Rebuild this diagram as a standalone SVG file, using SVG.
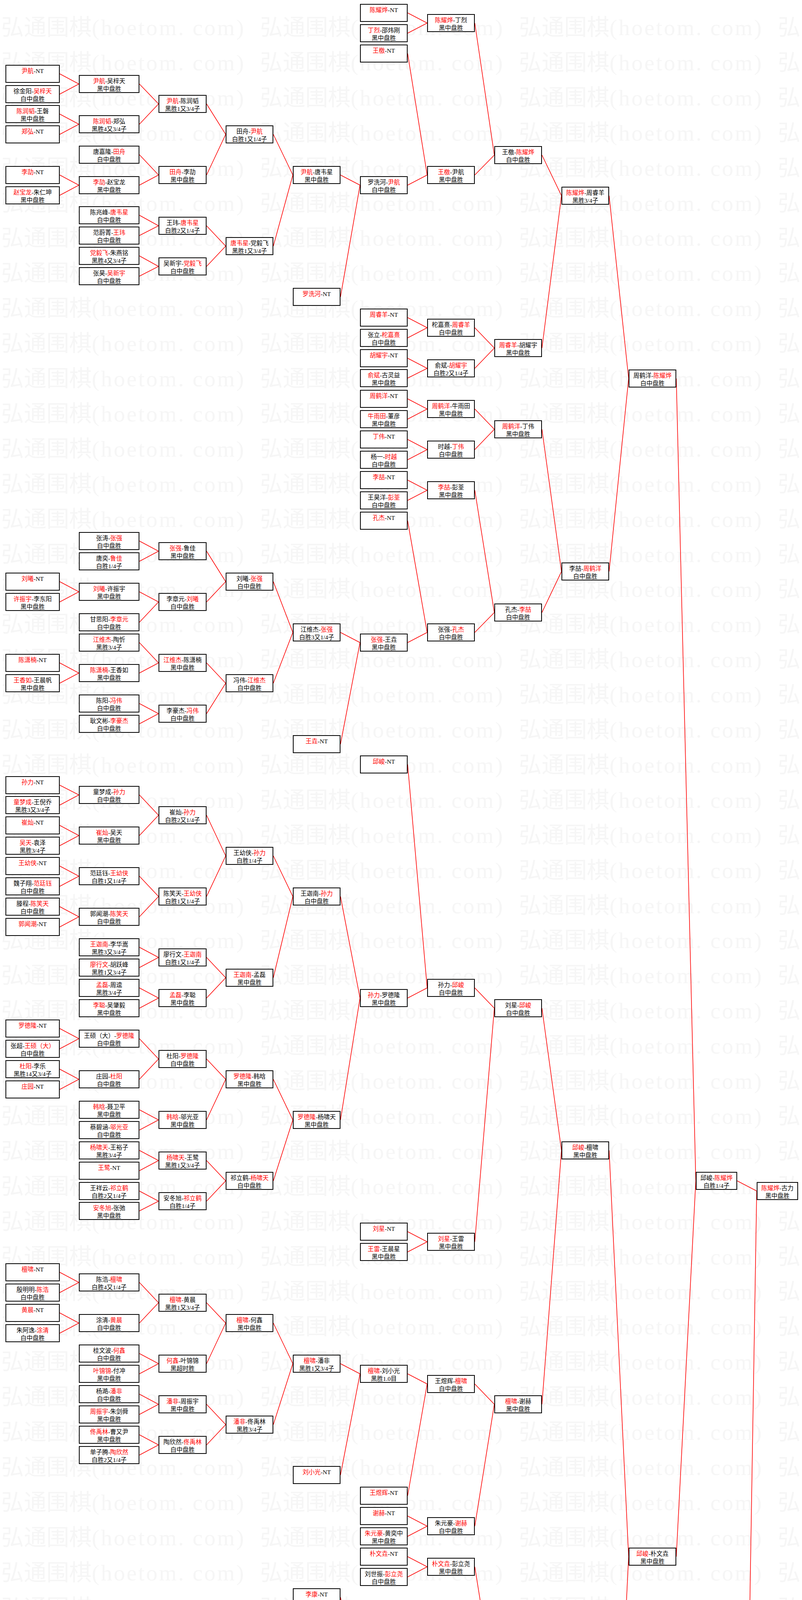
<svg xmlns="http://www.w3.org/2000/svg" width="2054" height="6097" viewBox="0 0 2054 6097">
<style>
.bx{fill:#fff;stroke:#000;stroke-width:2}
#watermark text{font-family:"Liberation Serif","Noto Sans CJK SC",serif;font-size:58px;fill:#f6f6f6}
#watermark tspan{letter-spacing:4px}
#nodes text{font-family:"Liberation Serif","Noto Sans CJK SC",serif;font-size:15.5px;text-anchor:middle;fill:#000}
#nodes tspan.r{fill:#f00}
#connectors path{fill:none;stroke:#f00;stroke-width:1.6}
</style>
<defs>
<rect id="bA" class="bx" x="1" y="1" width="137" height="44"/>
<rect id="bB" class="bx" x="1" y="1" width="153" height="44"/>
<rect id="bC" class="bx" x="1" y="1" width="121" height="44"/>
<rect id="bD" class="bx" x="1" y="1" width="120" height="44"/>
<rect id="bK" class="bx" x="1" y="1" width="104" height="44"/>
</defs>
<rect width="2054" height="6097" fill="#fff"/>
<g id="watermark">
<text x="3" y="90">弘通围棋<tspan>(hoetom. com)</tspan></text><text x="666" y="90">弘通围棋<tspan>(hoetom. com)</tspan></text><text x="1329" y="90">弘通围棋<tspan>(hoetom. com)</tspan></text><text x="1992" y="90">弘</text>
<text x="3" y="180">弘通围棋<tspan>(hoetom. com)</tspan></text><text x="666" y="180">弘通围棋<tspan>(hoetom. com)</tspan></text><text x="1329" y="180">弘通围棋<tspan>(hoetom. com)</tspan></text><text x="1992" y="180">弘</text>
<text x="3" y="270">弘通围棋<tspan>(hoetom. com)</tspan></text><text x="666" y="270">弘通围棋<tspan>(hoetom. com)</tspan></text><text x="1329" y="270">弘通围棋<tspan>(hoetom. com)</tspan></text><text x="1992" y="270">弘</text>
<text x="3" y="360">弘通围棋<tspan>(hoetom. com)</tspan></text><text x="666" y="360">弘通围棋<tspan>(hoetom. com)</tspan></text><text x="1329" y="360">弘通围棋<tspan>(hoetom. com)</tspan></text><text x="1992" y="360">弘</text>
<text x="3" y="450">弘通围棋<tspan>(hoetom. com)</tspan></text><text x="666" y="450">弘通围棋<tspan>(hoetom. com)</tspan></text><text x="1329" y="450">弘通围棋<tspan>(hoetom. com)</tspan></text><text x="1992" y="450">弘</text>
<text x="3" y="540">弘通围棋<tspan>(hoetom. com)</tspan></text><text x="666" y="540">弘通围棋<tspan>(hoetom. com)</tspan></text><text x="1329" y="540">弘通围棋<tspan>(hoetom. com)</tspan></text><text x="1992" y="540">弘</text>
<text x="3" y="629">弘通围棋<tspan>(hoetom. com)</tspan></text><text x="666" y="629">弘通围棋<tspan>(hoetom. com)</tspan></text><text x="1329" y="629">弘通围棋<tspan>(hoetom. com)</tspan></text><text x="1992" y="629">弘</text>
<text x="3" y="719">弘通围棋<tspan>(hoetom. com)</tspan></text><text x="666" y="719">弘通围棋<tspan>(hoetom. com)</tspan></text><text x="1329" y="719">弘通围棋<tspan>(hoetom. com)</tspan></text><text x="1992" y="719">弘</text>
<text x="3" y="809">弘通围棋<tspan>(hoetom. com)</tspan></text><text x="666" y="809">弘通围棋<tspan>(hoetom. com)</tspan></text><text x="1329" y="809">弘通围棋<tspan>(hoetom. com)</tspan></text><text x="1992" y="809">弘</text>
<text x="3" y="899">弘通围棋<tspan>(hoetom. com)</tspan></text><text x="666" y="899">弘通围棋<tspan>(hoetom. com)</tspan></text><text x="1329" y="899">弘通围棋<tspan>(hoetom. com)</tspan></text><text x="1992" y="899">弘</text>
<text x="3" y="989">弘通围棋<tspan>(hoetom. com)</tspan></text><text x="666" y="989">弘通围棋<tspan>(hoetom. com)</tspan></text><text x="1329" y="989">弘通围棋<tspan>(hoetom. com)</tspan></text><text x="1992" y="989">弘</text>
<text x="3" y="1079">弘通围棋<tspan>(hoetom. com)</tspan></text><text x="666" y="1079">弘通围棋<tspan>(hoetom. com)</tspan></text><text x="1329" y="1079">弘通围棋<tspan>(hoetom. com)</tspan></text><text x="1992" y="1079">弘</text>
<text x="3" y="1169">弘通围棋<tspan>(hoetom. com)</tspan></text><text x="666" y="1169">弘通围棋<tspan>(hoetom. com)</tspan></text><text x="1329" y="1169">弘通围棋<tspan>(hoetom. com)</tspan></text><text x="1992" y="1169">弘</text>
<text x="3" y="1259">弘通围棋<tspan>(hoetom. com)</tspan></text><text x="666" y="1259">弘通围棋<tspan>(hoetom. com)</tspan></text><text x="1329" y="1259">弘通围棋<tspan>(hoetom. com)</tspan></text><text x="1992" y="1259">弘</text>
<text x="3" y="1349">弘通围棋<tspan>(hoetom. com)</tspan></text><text x="666" y="1349">弘通围棋<tspan>(hoetom. com)</tspan></text><text x="1329" y="1349">弘通围棋<tspan>(hoetom. com)</tspan></text><text x="1992" y="1349">弘</text>
<text x="3" y="1439">弘通围棋<tspan>(hoetom. com)</tspan></text><text x="666" y="1439">弘通围棋<tspan>(hoetom. com)</tspan></text><text x="1329" y="1439">弘通围棋<tspan>(hoetom. com)</tspan></text><text x="1992" y="1439">弘</text>
<text x="3" y="1528">弘通围棋<tspan>(hoetom. com)</tspan></text><text x="666" y="1528">弘通围棋<tspan>(hoetom. com)</tspan></text><text x="1329" y="1528">弘通围棋<tspan>(hoetom. com)</tspan></text><text x="1992" y="1528">弘</text>
<text x="3" y="1618">弘通围棋<tspan>(hoetom. com)</tspan></text><text x="666" y="1618">弘通围棋<tspan>(hoetom. com)</tspan></text><text x="1329" y="1618">弘通围棋<tspan>(hoetom. com)</tspan></text><text x="1992" y="1618">弘</text>
<text x="3" y="1708">弘通围棋<tspan>(hoetom. com)</tspan></text><text x="666" y="1708">弘通围棋<tspan>(hoetom. com)</tspan></text><text x="1329" y="1708">弘通围棋<tspan>(hoetom. com)</tspan></text><text x="1992" y="1708">弘</text>
<text x="3" y="1798">弘通围棋<tspan>(hoetom. com)</tspan></text><text x="666" y="1798">弘通围棋<tspan>(hoetom. com)</tspan></text><text x="1329" y="1798">弘通围棋<tspan>(hoetom. com)</tspan></text><text x="1992" y="1798">弘</text>
<text x="3" y="1888">弘通围棋<tspan>(hoetom. com)</tspan></text><text x="666" y="1888">弘通围棋<tspan>(hoetom. com)</tspan></text><text x="1329" y="1888">弘通围棋<tspan>(hoetom. com)</tspan></text><text x="1992" y="1888">弘</text>
<text x="3" y="1978">弘通围棋<tspan>(hoetom. com)</tspan></text><text x="666" y="1978">弘通围棋<tspan>(hoetom. com)</tspan></text><text x="1329" y="1978">弘通围棋<tspan>(hoetom. com)</tspan></text><text x="1992" y="1978">弘</text>
<text x="3" y="2068">弘通围棋<tspan>(hoetom. com)</tspan></text><text x="666" y="2068">弘通围棋<tspan>(hoetom. com)</tspan></text><text x="1329" y="2068">弘通围棋<tspan>(hoetom. com)</tspan></text><text x="1992" y="2068">弘</text>
<text x="3" y="2158">弘通围棋<tspan>(hoetom. com)</tspan></text><text x="666" y="2158">弘通围棋<tspan>(hoetom. com)</tspan></text><text x="1329" y="2158">弘通围棋<tspan>(hoetom. com)</tspan></text><text x="1992" y="2158">弘</text>
<text x="3" y="2248">弘通围棋<tspan>(hoetom. com)</tspan></text><text x="666" y="2248">弘通围棋<tspan>(hoetom. com)</tspan></text><text x="1329" y="2248">弘通围棋<tspan>(hoetom. com)</tspan></text><text x="1992" y="2248">弘</text>
<text x="3" y="2338">弘通围棋<tspan>(hoetom. com)</tspan></text><text x="666" y="2338">弘通围棋<tspan>(hoetom. com)</tspan></text><text x="1329" y="2338">弘通围棋<tspan>(hoetom. com)</tspan></text><text x="1992" y="2338">弘</text>
<text x="3" y="2427">弘通围棋<tspan>(hoetom. com)</tspan></text><text x="666" y="2427">弘通围棋<tspan>(hoetom. com)</tspan></text><text x="1329" y="2427">弘通围棋<tspan>(hoetom. com)</tspan></text><text x="1992" y="2427">弘</text>
<text x="3" y="2517">弘通围棋<tspan>(hoetom. com)</tspan></text><text x="666" y="2517">弘通围棋<tspan>(hoetom. com)</tspan></text><text x="1329" y="2517">弘通围棋<tspan>(hoetom. com)</tspan></text><text x="1992" y="2517">弘</text>
<text x="3" y="2607">弘通围棋<tspan>(hoetom. com)</tspan></text><text x="666" y="2607">弘通围棋<tspan>(hoetom. com)</tspan></text><text x="1329" y="2607">弘通围棋<tspan>(hoetom. com)</tspan></text><text x="1992" y="2607">弘</text>
<text x="3" y="2697">弘通围棋<tspan>(hoetom. com)</tspan></text><text x="666" y="2697">弘通围棋<tspan>(hoetom. com)</tspan></text><text x="1329" y="2697">弘通围棋<tspan>(hoetom. com)</tspan></text><text x="1992" y="2697">弘</text>
<text x="3" y="2787">弘通围棋<tspan>(hoetom. com)</tspan></text><text x="666" y="2787">弘通围棋<tspan>(hoetom. com)</tspan></text><text x="1329" y="2787">弘通围棋<tspan>(hoetom. com)</tspan></text><text x="1992" y="2787">弘</text>
<text x="3" y="2877">弘通围棋<tspan>(hoetom. com)</tspan></text><text x="666" y="2877">弘通围棋<tspan>(hoetom. com)</tspan></text><text x="1329" y="2877">弘通围棋<tspan>(hoetom. com)</tspan></text><text x="1992" y="2877">弘</text>
<text x="3" y="2967">弘通围棋<tspan>(hoetom. com)</tspan></text><text x="666" y="2967">弘通围棋<tspan>(hoetom. com)</tspan></text><text x="1329" y="2967">弘通围棋<tspan>(hoetom. com)</tspan></text><text x="1992" y="2967">弘</text>
<text x="3" y="3057">弘通围棋<tspan>(hoetom. com)</tspan></text><text x="666" y="3057">弘通围棋<tspan>(hoetom. com)</tspan></text><text x="1329" y="3057">弘通围棋<tspan>(hoetom. com)</tspan></text><text x="1992" y="3057">弘</text>
<text x="3" y="3147">弘通围棋<tspan>(hoetom. com)</tspan></text><text x="666" y="3147">弘通围棋<tspan>(hoetom. com)</tspan></text><text x="1329" y="3147">弘通围棋<tspan>(hoetom. com)</tspan></text><text x="1992" y="3147">弘</text>
<text x="3" y="3237">弘通围棋<tspan>(hoetom. com)</tspan></text><text x="666" y="3237">弘通围棋<tspan>(hoetom. com)</tspan></text><text x="1329" y="3237">弘通围棋<tspan>(hoetom. com)</tspan></text><text x="1992" y="3237">弘</text>
<text x="3" y="3326">弘通围棋<tspan>(hoetom. com)</tspan></text><text x="666" y="3326">弘通围棋<tspan>(hoetom. com)</tspan></text><text x="1329" y="3326">弘通围棋<tspan>(hoetom. com)</tspan></text><text x="1992" y="3326">弘</text>
<text x="3" y="3416">弘通围棋<tspan>(hoetom. com)</tspan></text><text x="666" y="3416">弘通围棋<tspan>(hoetom. com)</tspan></text><text x="1329" y="3416">弘通围棋<tspan>(hoetom. com)</tspan></text><text x="1992" y="3416">弘</text>
<text x="3" y="3506">弘通围棋<tspan>(hoetom. com)</tspan></text><text x="666" y="3506">弘通围棋<tspan>(hoetom. com)</tspan></text><text x="1329" y="3506">弘通围棋<tspan>(hoetom. com)</tspan></text><text x="1992" y="3506">弘</text>
<text x="3" y="3596">弘通围棋<tspan>(hoetom. com)</tspan></text><text x="666" y="3596">弘通围棋<tspan>(hoetom. com)</tspan></text><text x="1329" y="3596">弘通围棋<tspan>(hoetom. com)</tspan></text><text x="1992" y="3596">弘</text>
<text x="3" y="3686">弘通围棋<tspan>(hoetom. com)</tspan></text><text x="666" y="3686">弘通围棋<tspan>(hoetom. com)</tspan></text><text x="1329" y="3686">弘通围棋<tspan>(hoetom. com)</tspan></text><text x="1992" y="3686">弘</text>
<text x="3" y="3776">弘通围棋<tspan>(hoetom. com)</tspan></text><text x="666" y="3776">弘通围棋<tspan>(hoetom. com)</tspan></text><text x="1329" y="3776">弘通围棋<tspan>(hoetom. com)</tspan></text><text x="1992" y="3776">弘</text>
<text x="3" y="3866">弘通围棋<tspan>(hoetom. com)</tspan></text><text x="666" y="3866">弘通围棋<tspan>(hoetom. com)</tspan></text><text x="1329" y="3866">弘通围棋<tspan>(hoetom. com)</tspan></text><text x="1992" y="3866">弘</text>
<text x="3" y="3956">弘通围棋<tspan>(hoetom. com)</tspan></text><text x="666" y="3956">弘通围棋<tspan>(hoetom. com)</tspan></text><text x="1329" y="3956">弘通围棋<tspan>(hoetom. com)</tspan></text><text x="1992" y="3956">弘</text>
<text x="3" y="4046">弘通围棋<tspan>(hoetom. com)</tspan></text><text x="666" y="4046">弘通围棋<tspan>(hoetom. com)</tspan></text><text x="1329" y="4046">弘通围棋<tspan>(hoetom. com)</tspan></text><text x="1992" y="4046">弘</text>
<text x="3" y="4136">弘通围棋<tspan>(hoetom. com)</tspan></text><text x="666" y="4136">弘通围棋<tspan>(hoetom. com)</tspan></text><text x="1329" y="4136">弘通围棋<tspan>(hoetom. com)</tspan></text><text x="1992" y="4136">弘</text>
<text x="3" y="4225">弘通围棋<tspan>(hoetom. com)</tspan></text><text x="666" y="4225">弘通围棋<tspan>(hoetom. com)</tspan></text><text x="1329" y="4225">弘通围棋<tspan>(hoetom. com)</tspan></text><text x="1992" y="4225">弘</text>
<text x="3" y="4315">弘通围棋<tspan>(hoetom. com)</tspan></text><text x="666" y="4315">弘通围棋<tspan>(hoetom. com)</tspan></text><text x="1329" y="4315">弘通围棋<tspan>(hoetom. com)</tspan></text><text x="1992" y="4315">弘</text>
<text x="3" y="4405">弘通围棋<tspan>(hoetom. com)</tspan></text><text x="666" y="4405">弘通围棋<tspan>(hoetom. com)</tspan></text><text x="1329" y="4405">弘通围棋<tspan>(hoetom. com)</tspan></text><text x="1992" y="4405">弘</text>
<text x="3" y="4495">弘通围棋<tspan>(hoetom. com)</tspan></text><text x="666" y="4495">弘通围棋<tspan>(hoetom. com)</tspan></text><text x="1329" y="4495">弘通围棋<tspan>(hoetom. com)</tspan></text><text x="1992" y="4495">弘</text>
<text x="3" y="4585">弘通围棋<tspan>(hoetom. com)</tspan></text><text x="666" y="4585">弘通围棋<tspan>(hoetom. com)</tspan></text><text x="1329" y="4585">弘通围棋<tspan>(hoetom. com)</tspan></text><text x="1992" y="4585">弘</text>
<text x="3" y="4675">弘通围棋<tspan>(hoetom. com)</tspan></text><text x="666" y="4675">弘通围棋<tspan>(hoetom. com)</tspan></text><text x="1329" y="4675">弘通围棋<tspan>(hoetom. com)</tspan></text><text x="1992" y="4675">弘</text>
<text x="3" y="4765">弘通围棋<tspan>(hoetom. com)</tspan></text><text x="666" y="4765">弘通围棋<tspan>(hoetom. com)</tspan></text><text x="1329" y="4765">弘通围棋<tspan>(hoetom. com)</tspan></text><text x="1992" y="4765">弘</text>
<text x="3" y="4855">弘通围棋<tspan>(hoetom. com)</tspan></text><text x="666" y="4855">弘通围棋<tspan>(hoetom. com)</tspan></text><text x="1329" y="4855">弘通围棋<tspan>(hoetom. com)</tspan></text><text x="1992" y="4855">弘</text>
<text x="3" y="4945">弘通围棋<tspan>(hoetom. com)</tspan></text><text x="666" y="4945">弘通围棋<tspan>(hoetom. com)</tspan></text><text x="1329" y="4945">弘通围棋<tspan>(hoetom. com)</tspan></text><text x="1992" y="4945">弘</text>
<text x="3" y="5035">弘通围棋<tspan>(hoetom. com)</tspan></text><text x="666" y="5035">弘通围棋<tspan>(hoetom. com)</tspan></text><text x="1329" y="5035">弘通围棋<tspan>(hoetom. com)</tspan></text><text x="1992" y="5035">弘</text>
<text x="3" y="5124">弘通围棋<tspan>(hoetom. com)</tspan></text><text x="666" y="5124">弘通围棋<tspan>(hoetom. com)</tspan></text><text x="1329" y="5124">弘通围棋<tspan>(hoetom. com)</tspan></text><text x="1992" y="5124">弘</text>
<text x="3" y="5214">弘通围棋<tspan>(hoetom. com)</tspan></text><text x="666" y="5214">弘通围棋<tspan>(hoetom. com)</tspan></text><text x="1329" y="5214">弘通围棋<tspan>(hoetom. com)</tspan></text><text x="1992" y="5214">弘</text>
<text x="3" y="5304">弘通围棋<tspan>(hoetom. com)</tspan></text><text x="666" y="5304">弘通围棋<tspan>(hoetom. com)</tspan></text><text x="1329" y="5304">弘通围棋<tspan>(hoetom. com)</tspan></text><text x="1992" y="5304">弘</text>
<text x="3" y="5394">弘通围棋<tspan>(hoetom. com)</tspan></text><text x="666" y="5394">弘通围棋<tspan>(hoetom. com)</tspan></text><text x="1329" y="5394">弘通围棋<tspan>(hoetom. com)</tspan></text><text x="1992" y="5394">弘</text>
<text x="3" y="5484">弘通围棋<tspan>(hoetom. com)</tspan></text><text x="666" y="5484">弘通围棋<tspan>(hoetom. com)</tspan></text><text x="1329" y="5484">弘通围棋<tspan>(hoetom. com)</tspan></text><text x="1992" y="5484">弘</text>
<text x="3" y="5574">弘通围棋<tspan>(hoetom. com)</tspan></text><text x="666" y="5574">弘通围棋<tspan>(hoetom. com)</tspan></text><text x="1329" y="5574">弘通围棋<tspan>(hoetom. com)</tspan></text><text x="1992" y="5574">弘</text>
<text x="3" y="5664">弘通围棋<tspan>(hoetom. com)</tspan></text><text x="666" y="5664">弘通围棋<tspan>(hoetom. com)</tspan></text><text x="1329" y="5664">弘通围棋<tspan>(hoetom. com)</tspan></text><text x="1992" y="5664">弘</text>
<text x="3" y="5754">弘通围棋<tspan>(hoetom. com)</tspan></text><text x="666" y="5754">弘通围棋<tspan>(hoetom. com)</tspan></text><text x="1329" y="5754">弘通围棋<tspan>(hoetom. com)</tspan></text><text x="1992" y="5754">弘</text>
<text x="3" y="5844">弘通围棋<tspan>(hoetom. com)</tspan></text><text x="666" y="5844">弘通围棋<tspan>(hoetom. com)</tspan></text><text x="1329" y="5844">弘通围棋<tspan>(hoetom. com)</tspan></text><text x="1992" y="5844">弘</text>
<text x="3" y="5934">弘通围棋<tspan>(hoetom. com)</tspan></text><text x="666" y="5934">弘通围棋<tspan>(hoetom. com)</tspan></text><text x="1329" y="5934">弘通围棋<tspan>(hoetom. com)</tspan></text><text x="1992" y="5934">弘</text>
<text x="3" y="6023">弘通围棋<tspan>(hoetom. com)</tspan></text><text x="666" y="6023">弘通围棋<tspan>(hoetom. com)</tspan></text><text x="1329" y="6023">弘通围棋<tspan>(hoetom. com)</tspan></text><text x="1992" y="6023">弘</text>
</g>
<g id="connectors">
<path d="M153 189L202 215L153 241M153 292L202 318L153 344M153 448L202 474L153 500M153 1489L202 1515L153 1541M153 1697L202 1723L153 1749M153 2010L202 2035L153 2061M153 2113L202 2139L153 2165M153 2217L202 2243L153 2269M153 2321L202 2347L153 2373M153 2633L202 2659L153 2685M153 2737L202 2763L153 2789M153 3257L202 3283L153 3309M153 3361L202 3387L153 3413M153 4297L202 4323L153 4349M153 4401L202 4427L153 4452M153 4505L202 4531L153 4557M153 4713L202 4739L153 4765M153 4817L202 4843L153 4869M153 4973L202 4999L153 5025M153 5441L202 5467L153 5493M153 5545L202 5571L153 5597M153 5701L202 5727L153 5753"/>
<path d="M357 215L406 266L357 318M357 396L406 448L357 474M357 551L406 578L357 603M357 655L406 682L357 707M357 1385L406 1411L357 1437M357 1515L406 1541L357 1593M357 1645L406 1697L357 1723M357 1801L406 1827L357 1853M357 2035L406 2087L357 2139M357 2243L406 2295L357 2347M357 2425L406 2451L357 2477M357 2529L406 2555L357 2581M357 2659L406 2711L357 2763M357 2841L406 2867L357 2893M357 2945L406 2971L357 2997M357 3049L406 3075L357 3100M357 3283L406 3335L357 3387M357 3465L406 3491L357 3517M357 3569L406 3595L357 3621M357 3673L406 3699L357 3725M357 4193L406 4219L357 4245M357 4323L406 4375L357 4427M357 4531L406 4557L357 4609M357 4739L406 4791L357 4843M357 4921L406 4973L357 4999M357 5077L406 5103L357 5129M357 5181L406 5207L357 5233M357 5467L406 5519L357 5571M357 5649L406 5701L357 5727M357 5805L406 5831L357 5857M357 5909L406 5935L357 5961"/>
<path d="M529 266L578 344L529 448M529 578L578 630L529 682M529 1411L578 1489L529 1541M529 1697L578 1749L529 1827M529 2087L578 2191L529 2295M529 2451L578 2503L529 2555M529 2711L578 2763L529 2867M529 2971L578 3023L529 3075M529 3335L578 3387L529 3491M529 3595L578 3647L529 3699M529 4141L578 4193L529 4219M529 4375L578 4453L529 4557M529 4791L578 4869L529 4973M529 5103L578 5155L529 5207M529 5519L578 5597L529 5701M529 5831L578 5883L529 5935"/>
<path d="M700 344L750 448L700 630M700 1489L750 1619L700 1749M700 2191L750 2295L700 2503M700 2763L750 2867L700 3023M700 3387L750 3491L700 3647M700 4193L750 4375L700 4453M700 4869L750 4973L700 5155M700 5597L750 5701L700 5883"/>
<path d="M872 448L922 474L872 760M872 1619L922 1645L872 1905M872 2295L922 2555L872 2867M872 3491L922 3517L872 3776M872 4089L922 4349L872 4375M872 4973L922 4999L872 5285M872 5701L922 5727L872 6013"/>
<path d="M1044 33L1094 59L1044 85M1044 137L1094 448L1044 474M1044 813L1094 839L1044 865M1044 917L1094 943L1044 968M1044 1021L1094 1047L1044 1073M1044 1125L1094 1151L1044 1177M1044 1229L1094 1255L1044 1281M1044 1333L1094 1619L1044 1645M1044 1957L1094 2529L1044 2555M1044 3153L1094 3179L1044 3205M1044 3517L1094 3543L1044 3829M1044 3881L1094 3907L1044 3933M1044 3985L1094 4011L1044 4037M1044 4349L1094 4375L1044 4661M1044 4999L1094 5025L1044 5337M1044 5389L1094 5701L1044 5727"/>
<path d="M1216 59L1266 397L1216 448M1216 839L1266 891L1216 943M1216 1047L1266 1099L1216 1151M1216 1255L1266 1568L1216 1619M1216 2529L1266 2581L1216 3179M1216 3543L1266 3595L1216 3907M1216 4011L1266 4323L1216 4375M1216 5025L1266 5363L1216 5701"/>
<path d="M1388 397L1438 501L1388 891M1388 1099L1438 1463L1388 1568M1388 2581L1438 2945L1388 3595M1388 4323L1438 4999L1388 5363"/>
<path d="M1560 501L1610 969L1560 1463M1560 2945L1610 3985L1560 4999"/>
<path d="M1732 969L1782 3023L1732 3985"/>
<path d="M1888 3023L1938 3049L1888 6064"/>
</g>
<g id="nodes">
<g id="a1" transform="translate(14,166)"><use href="#bA"/><text x="69.5" y="20.5"><tspan class="r">尹航</tspan>-NT</text></g>
<g id="a2" transform="translate(14,218)"><use href="#bA"/><text x="69.5" y="20.5">徐金阳-<tspan class="r">吴梓天</tspan></text><text x="69.5" y="41">白中盘胜</text></g>
<g id="a3" transform="translate(14,269)"><use href="#bA"/><text x="69.5" y="20.5"><tspan class="r">陈润韬</tspan>-王磐</text><text x="69.5" y="41">黑中盘胜</text></g>
<g id="a4" transform="translate(14,321)"><use href="#bA"/><text x="69.5" y="20.5"><tspan class="r">郑弘</tspan>-NT</text></g>
<g id="a5" transform="translate(14,425)"><use href="#bA"/><text x="69.5" y="20.5"><tspan class="r">李劼</tspan>-NT</text></g>
<g id="a6" transform="translate(14,477)"><use href="#bA"/><text x="69.5" y="20.5"><tspan class="r">赵宝龙</tspan>-朱仁坤</text><text x="69.5" y="41">黑中盘胜</text></g>
<g id="a7" transform="translate(14,1466)"><use href="#bA"/><text x="69.5" y="20.5"><tspan class="r">刘曦</tspan>-NT</text></g>
<g id="a8" transform="translate(14,1518)"><use href="#bA"/><text x="69.5" y="20.5"><tspan class="r">许振宇</tspan>-李东阳</text><text x="69.5" y="41">黑中盘胜</text></g>
<g id="a9" transform="translate(14,1674)"><use href="#bA"/><text x="69.5" y="20.5"><tspan class="r">陈潇楠</tspan>-NT</text></g>
<g id="a10" transform="translate(14,1726)"><use href="#bA"/><text x="69.5" y="20.5"><tspan class="r">王香如</tspan>-王晨帆</text><text x="69.5" y="41">黑中盘胜</text></g>
<g id="a11" transform="translate(14,1987)"><use href="#bA"/><text x="69.5" y="20.5"><tspan class="r">孙力</tspan>-NT</text></g>
<g id="a12" transform="translate(14,2038)"><use href="#bA"/><text x="69.5" y="20.5"><tspan class="r">童梦成</tspan>-王倪乔</text><text x="69.5" y="41">黑胜3又3/4子</text></g>
<g id="a13" transform="translate(14,2090)"><use href="#bA"/><text x="69.5" y="20.5"><tspan class="r">崔灿</tspan>-NT</text></g>
<g id="a14" transform="translate(14,2142)"><use href="#bA"/><text x="69.5" y="20.5"><tspan class="r">吴天</tspan>-袁泽</text><text x="69.5" y="41">黑胜3/4子</text></g>
<g id="a15" transform="translate(14,2194)"><use href="#bA"/><text x="69.5" y="20.5"><tspan class="r">王幼侠</tspan>-NT</text></g>
<g id="a16" transform="translate(14,2246)"><use href="#bA"/><text x="69.5" y="20.5">魏子翔-<tspan class="r">范廷钰</tspan></text><text x="69.5" y="41">白中盘胜</text></g>
<g id="a17" transform="translate(14,2298)"><use href="#bA"/><text x="69.5" y="20.5">滕程-<tspan class="r">陈笑天</tspan></text><text x="69.5" y="41">白中盘胜</text></g>
<g id="a18" transform="translate(14,2350)"><use href="#bA"/><text x="69.5" y="20.5"><tspan class="r">郭闻潮</tspan>-NT</text></g>
<g id="a19" transform="translate(14,2610)"><use href="#bA"/><text x="69.5" y="20.5"><tspan class="r">罗德隆</tspan>-NT</text></g>
<g id="a20" transform="translate(14,2662)"><use href="#bA"/><text x="69.5" y="20.5">张超-<tspan class="r">王硕（大）</tspan></text><text x="69.5" y="41">白中盘胜</text></g>
<g id="a21" transform="translate(14,2714)"><use href="#bA"/><text x="69.5" y="20.5"><tspan class="r">杜阳</tspan>-李乐</text><text x="69.5" y="41">黑胜14又3/4子</text></g>
<g id="a22" transform="translate(14,2766)"><use href="#bA"/><text x="69.5" y="20.5"><tspan class="r">庄园</tspan>-NT</text></g>
<g id="a23" transform="translate(14,3234)"><use href="#bA"/><text x="69.5" y="20.5"><tspan class="r">檀啸</tspan>-NT</text></g>
<g id="a24" transform="translate(14,3286)"><use href="#bA"/><text x="69.5" y="20.5">殷明明-<tspan class="r">陈浩</tspan></text><text x="69.5" y="41">白中盘胜</text></g>
<g id="a25" transform="translate(14,3338)"><use href="#bA"/><text x="69.5" y="20.5"><tspan class="r">黄晨</tspan>-NT</text></g>
<g id="a26" transform="translate(14,3390)"><use href="#bA"/><text x="69.5" y="20.5">朱阿逸-<tspan class="r">涂清</tspan></text><text x="69.5" y="41">白中盘胜</text></g>
<g id="a27" transform="translate(14,4274)"><use href="#bA"/><text x="69.5" y="20.5"><tspan class="r">张东岳</tspan>-NT</text></g>
<g id="a28" transform="translate(14,4326)"><use href="#bA"/><text x="69.5" y="20.5">王哲明-<tspan class="r">谢少博</tspan></text><text x="69.5" y="41">白中盘胜</text></g>
<g id="a29" transform="translate(14,4378)"><use href="#bA"/><text x="69.5" y="20.5"><tspan class="r">赵守洵</tspan>-NT</text></g>
<g id="a30" transform="translate(14,4429)"><use href="#bA"/><text x="69.5" y="20.5"><tspan class="r">马如龙</tspan>-张弢</text><text x="69.5" y="41">黑胜3又3/4子</text></g>
<g id="a31" transform="translate(14,4482)"><use href="#bA"/><text x="69.5" y="20.5"><tspan class="r">张维</tspan>-NT</text></g>
<g id="a32" transform="translate(14,4534)"><use href="#bA"/><text x="69.5" y="20.5">边志文-<tspan class="r">国宇征</tspan></text><text x="69.5" y="41">白中盘胜</text></g>
<g id="a33" transform="translate(14,4690)"><use href="#bA"/><text x="69.5" y="20.5"><tspan class="r">孟泰龄</tspan>-NT</text></g>
<g id="a34" transform="translate(14,4742)"><use href="#bA"/><text x="69.5" y="20.5">刘彤-<tspan class="r">李轩豪</tspan></text><text x="69.5" y="41">白中盘胜</text></g>
<g id="a35" transform="translate(14,4794)"><use href="#bA"/><text x="69.5" y="20.5"><tspan class="r">赵哲伦</tspan>-NT</text></g>
<g id="a36" transform="translate(14,4846)"><use href="#bA"/><text x="69.5" y="20.5">芈昱廷-<tspan class="r">崔博东</tspan></text><text x="69.5" y="41">白胜3又1/4子</text></g>
<g id="a37" transform="translate(14,4950)"><use href="#bA"/><text x="69.5" y="20.5"><tspan class="r">李莹(小)</tspan>-李小溪</text><text x="69.5" y="41">黑胜3/4子</text></g>
<g id="a38" transform="translate(14,5002)"><use href="#bA"/><text x="69.5" y="20.5"><tspan class="r">蓝天</tspan>-NT</text></g>
<g id="a39" transform="translate(14,5418)"><use href="#bA"/><text x="69.5" y="20.5"><tspan class="r">毛睿龙</tspan>-NT</text></g>
<g id="a40" transform="translate(14,5470)"><use href="#bA"/><text x="69.5" y="20.5">金磊-<tspan class="r">杨鼎新</tspan></text><text x="69.5" y="41">白中盘胜</text></g>
<g id="a41" transform="translate(14,5522)"><use href="#bA"/><text x="69.5" y="20.5"><tspan class="r">汪涛</tspan>-NT</text></g>
<g id="a42" transform="translate(14,5574)"><use href="#bA"/><text x="69.5" y="20.5"><tspan class="r">宋容慧</tspan>-白光源</text><text x="69.5" y="41">黑中盘胜</text></g>
<g id="a43" transform="translate(14,5678)"><use href="#bA"/><text x="69.5" y="20.5">韩刚-<tspan class="r">胡然闵</tspan></text><text x="69.5" y="41">白胜1/4子</text></g>
<g id="a44" transform="translate(14,5730)"><use href="#bA"/><text x="69.5" y="20.5"><tspan class="r">王剑坤</tspan>-NT</text></g>

<g id="b1" transform="translate(202,192)"><use href="#bB"/><text x="77.5" y="20.5"><tspan class="r">尹航</tspan>-吴梓天</text><text x="77.5" y="41">黑中盘胜</text></g>
<g id="b2" transform="translate(202,295)"><use href="#bB"/><text x="77.5" y="20.5"><tspan class="r">陈润韬</tspan>-郑弘</text><text x="77.5" y="41">黑胜4又3/4子</text></g>
<g id="b3" transform="translate(202,373)"><use href="#bB"/><text x="77.5" y="20.5">唐嘉隆-<tspan class="r">田舟</tspan></text><text x="77.5" y="41">白中盘胜</text></g>
<g id="b4" transform="translate(202,451)"><use href="#bB"/><text x="77.5" y="20.5"><tspan class="r">李劼</tspan>-赵宝龙</text><text x="77.5" y="41">黑中盘胜</text></g>
<g id="b5" transform="translate(202,528)"><use href="#bB"/><text x="77.5" y="20.5">陈兆峰-<tspan class="r">唐韦星</tspan></text><text x="77.5" y="41">白中盘胜</text></g>
<g id="b6" transform="translate(202,580)"><use href="#bB"/><text x="77.5" y="20.5">范蔚菁-<tspan class="r">王玮</tspan></text><text x="77.5" y="41">白中盘胜</text></g>
<g id="b7" transform="translate(202,632)"><use href="#bB"/><text x="77.5" y="20.5"><tspan class="r">党毅飞</tspan>-朱燕铭</text><text x="77.5" y="41">黑胜4又3/4子</text></g>
<g id="b8" transform="translate(202,684)"><use href="#bB"/><text x="77.5" y="20.5">张昊-<tspan class="r">吴新宇</tspan></text><text x="77.5" y="41">白中盘胜</text></g>
<g id="b9" transform="translate(202,1362)"><use href="#bB"/><text x="77.5" y="20.5">张涛-<tspan class="r">张强</tspan></text><text x="77.5" y="41">白中盘胜</text></g>
<g id="b10" transform="translate(202,1414)"><use href="#bB"/><text x="77.5" y="20.5">唐奕-<tspan class="r">鲁佳</tspan></text><text x="77.5" y="41">白胜1/4子</text></g>
<g id="b11" transform="translate(202,1492)"><use href="#bB"/><text x="77.5" y="20.5"><tspan class="r">刘曦</tspan>-许振宇</text><text x="77.5" y="41">黑中盘胜</text></g>
<g id="b12" transform="translate(202,1570)"><use href="#bB"/><text x="77.5" y="20.5">甘思阳-<tspan class="r">李章元</tspan></text><text x="77.5" y="41">白中盘胜</text></g>
<g id="b13" transform="translate(202,1622)"><use href="#bB"/><text x="77.5" y="20.5"><tspan class="r">江维杰</tspan>-陶忻</text><text x="77.5" y="41">黑胜3/4子</text></g>
<g id="b14" transform="translate(202,1700)"><use href="#bB"/><text x="77.5" y="20.5"><tspan class="r">陈潇楠</tspan>-王香如</text><text x="77.5" y="41">黑中盘胜</text></g>
<g id="b15" transform="translate(202,1778)"><use href="#bB"/><text x="77.5" y="20.5">陈阳-<tspan class="r">冯伟</tspan></text><text x="77.5" y="41">白中盘胜</text></g>
<g id="b16" transform="translate(202,1830)"><use href="#bB"/><text x="77.5" y="20.5">耿文彬-<tspan class="r">李豪杰</tspan></text><text x="77.5" y="41">白中盘胜</text></g>
<g id="b17" transform="translate(202,2012)"><use href="#bB"/><text x="77.5" y="20.5">童梦成-<tspan class="r">孙力</tspan></text><text x="77.5" y="41">白中盘胜</text></g>
<g id="b18" transform="translate(202,2116)"><use href="#bB"/><text x="77.5" y="20.5"><tspan class="r">崔灿</tspan>-吴天</text><text x="77.5" y="41">黑中盘胜</text></g>
<g id="b19" transform="translate(202,2220)"><use href="#bB"/><text x="77.5" y="20.5">范廷钰-<tspan class="r">王幼侠</tspan></text><text x="77.5" y="41">白胜1又1/4子</text></g>
<g id="b20" transform="translate(202,2324)"><use href="#bB"/><text x="77.5" y="20.5">郭闻潮-<tspan class="r">陈笑天</tspan></text><text x="77.5" y="41">白中盘胜</text></g>
<g id="b21" transform="translate(202,2402)"><use href="#bB"/><text x="77.5" y="20.5"><tspan class="r">王迦南</tspan>-李华嵩</text><text x="77.5" y="41">黑胜3又3/4子</text></g>
<g id="b22" transform="translate(202,2454)"><use href="#bB"/><text x="77.5" y="20.5"><tspan class="r">廖行文</tspan>-胡跃峰</text><text x="77.5" y="41">黑胜1又3/4子</text></g>
<g id="b23" transform="translate(202,2506)"><use href="#bB"/><text x="77.5" y="20.5"><tspan class="r">孟磊</tspan>-周逵</text><text x="77.5" y="41">黑胜3/4子</text></g>
<g id="b24" transform="translate(202,2558)"><use href="#bB"/><text x="77.5" y="20.5"><tspan class="r">李聪</tspan>-吴肇毅</text><text x="77.5" y="41">黑中盘胜</text></g>
<g id="b25" transform="translate(202,2636)"><use href="#bB"/><text x="77.5" y="20.5">王硕（大）-<tspan class="r">罗德隆</tspan></text><text x="77.5" y="41">白中盘胜</text></g>
<g id="b26" transform="translate(202,2740)"><use href="#bB"/><text x="77.5" y="20.5">庄园-<tspan class="r">杜阳</tspan></text><text x="77.5" y="41">白中盘胜</text></g>
<g id="b27" transform="translate(202,2818)"><use href="#bB"/><text x="77.5" y="20.5"><tspan class="r">韩晗</tspan>-聂卫平</text><text x="77.5" y="41">黑中盘胜</text></g>
<g id="b28" transform="translate(202,2870)"><use href="#bB"/><text x="77.5" y="20.5">蔡碧涵-<tspan class="r">邬光亚</tspan></text><text x="77.5" y="41">白中盘胜</text></g>
<g id="b29" transform="translate(202,2922)"><use href="#bB"/><text x="77.5" y="20.5"><tspan class="r">杨啸天</tspan>-王裕子</text><text x="77.5" y="41">黑胜3/4子</text></g>
<g id="b30" transform="translate(202,2974)"><use href="#bB"/><text x="77.5" y="20.5"><tspan class="r">王鹭</tspan>-NT</text></g>
<g id="b31" transform="translate(202,3026)"><use href="#bB"/><text x="77.5" y="20.5">王祥云-<tspan class="r">祁立鹤</tspan></text><text x="77.5" y="41">白胜2又1/4子</text></g>
<g id="b32" transform="translate(202,3077)"><use href="#bB"/><text x="77.5" y="20.5"><tspan class="r">安冬旭</tspan>-张弛</text><text x="77.5" y="41">黑中盘胜</text></g>
<g id="b33" transform="translate(202,3260)"><use href="#bB"/><text x="77.5" y="20.5">陈浩-<tspan class="r">檀啸</tspan></text><text x="77.5" y="41">白胜4又1/4子</text></g>
<g id="b34" transform="translate(202,3364)"><use href="#bB"/><text x="77.5" y="20.5">涂清-<tspan class="r">黄晨</tspan></text><text x="77.5" y="41">白中盘胜</text></g>
<g id="b35" transform="translate(202,3442)"><use href="#bB"/><text x="77.5" y="20.5">桂文波-<tspan class="r">何鑫</tspan></text><text x="77.5" y="41">白中盘胜</text></g>
<g id="b36" transform="translate(202,3494)"><use href="#bB"/><text x="77.5" y="20.5"><tspan class="r">叶锦锦</tspan>-付冲</text><text x="77.5" y="41">黑中盘胜</text></g>
<g id="b37" transform="translate(202,3546)"><use href="#bB"/><text x="77.5" y="20.5">杨澔-<tspan class="r">潘非</tspan></text><text x="77.5" y="41">白中盘胜</text></g>
<g id="b38" transform="translate(202,3598)"><use href="#bB"/><text x="77.5" y="20.5"><tspan class="r">周振宇</tspan>-朱剑舜</text><text x="77.5" y="41">黑中盘胜</text></g>
<g id="b39" transform="translate(202,3650)"><use href="#bB"/><text x="77.5" y="20.5"><tspan class="r">佟禹林</tspan>-曹又尹</text><text x="77.5" y="41">黑中盘胜</text></g>
<g id="b40" transform="translate(202,3702)"><use href="#bB"/><text x="77.5" y="20.5">单子腾-<tspan class="r">陶欣然</tspan></text><text x="77.5" y="41">白胜2又1/4子</text></g>
<g id="b41" transform="translate(202,4170)"><use href="#bB"/><text x="77.5" y="20.5">蔡竞-<tspan class="r">娄洛宁</tspan></text><text x="77.5" y="41">白中盘胜</text></g>
<g id="b42" transform="translate(202,4222)"><use href="#bB"/><text x="77.5" y="20.5">方昊-<tspan class="r">连笑</tspan></text><text x="77.5" y="41">白胜1又1/4子</text></g>
<g id="b43" transform="translate(202,4300)"><use href="#bB"/><text x="77.5" y="20.5">谢少博-<tspan class="r">张东岳</tspan></text><text x="77.5" y="41">白中盘胜</text></g>
<g id="b44" transform="translate(202,4404)"><use href="#bB"/><text x="77.5" y="20.5">马如龙-<tspan class="r">赵守洵</tspan></text><text x="77.5" y="41">白中盘胜</text></g>
<g id="b45" transform="translate(202,4508)"><use href="#bB"/><text x="77.5" y="20.5">国宇征-<tspan class="r">张维</tspan></text><text x="77.5" y="41">白中盘胜</text></g>
<g id="b46" transform="translate(202,4586)"><use href="#bB"/><text x="77.5" y="20.5">孙明杰-<tspan class="r">方捷</tspan></text><text x="77.5" y="41">白中盘胜</text></g>
<g id="b47" transform="translate(202,4716)"><use href="#bB"/><text x="77.5" y="20.5">李轩豪-<tspan class="r">孟泰龄</tspan></text><text x="77.5" y="41">白中盘胜</text></g>
<g id="b48" transform="translate(202,4820)"><use href="#bB"/><text x="77.5" y="20.5"><tspan class="r">赵哲伦</tspan>-崔博东</text><text x="77.5" y="41">黑中盘胜</text></g>
<g id="b49" transform="translate(202,4898)"><use href="#bB"/><text x="77.5" y="20.5">严欢-<tspan class="r">李铭</tspan></text><text x="77.5" y="41">白胜4又1/4子</text></g>
<g id="b50" transform="translate(202,4976)"><use href="#bB"/><text x="77.5" y="20.5">蓝天-<tspan class="r">李莹(小)</tspan></text><text x="77.5" y="41">白中盘胜</text></g>
<g id="b51" transform="translate(202,5054)"><use href="#bB"/><text x="77.5" y="20.5">吴树浩-<tspan class="r">王东亮</tspan></text><text x="77.5" y="41">白中盘胜</text></g>
<g id="b52" transform="translate(202,5106)"><use href="#bB"/><text x="77.5" y="20.5"><tspan class="r">郑淼鑫</tspan>-刘宇</text><text x="77.5" y="41">黑中盘胜</text></g>
<g id="b53" transform="translate(202,5158)"><use href="#bB"/><text x="77.5" y="20.5"><tspan class="r">张宏杰</tspan>-郑岩</text><text x="77.5" y="41">黑中盘胜</text></g>
<g id="b54" transform="translate(202,5210)"><use href="#bB"/><text x="77.5" y="20.5">许斐然-<tspan class="r">贾依凡</tspan></text><text x="77.5" y="41">白中盘胜</text></g>
<g id="b55" transform="translate(202,5444)"><use href="#bB"/><text x="77.5" y="20.5"><tspan class="r">毛睿龙</tspan>-杨鼎新</text><text x="77.5" y="41">黑中盘胜</text></g>
<g id="b56" transform="translate(202,5548)"><use href="#bB"/><text x="77.5" y="20.5">宋容慧-<tspan class="r">汪涛</tspan></text><text x="77.5" y="41">白中盘胜</text></g>
<g id="b57" transform="translate(202,5626)"><use href="#bB"/><text x="77.5" y="20.5"><tspan class="r">戎毅</tspan>-鲁健</text><text x="77.5" y="41">黑中盘胜</text></g>
<g id="b58" transform="translate(202,5704)"><use href="#bB"/><text x="77.5" y="20.5">王剑坤-<tspan class="r">胡然闵</tspan></text><text x="77.5" y="41">白中盘胜</text></g>
<g id="b59" transform="translate(202,5782)"><use href="#bB"/><text x="77.5" y="20.5"><tspan class="r">蒋蔚</tspan>-秦悦欣</text><text x="77.5" y="41">黑中盘胜</text></g>
<g id="b60" transform="translate(202,5834)"><use href="#bB"/><text x="77.5" y="20.5">刘云龙-<tspan class="r">曹潇阳</tspan></text><text x="77.5" y="41">白中盘胜</text></g>
<g id="b61" transform="translate(202,5886)"><use href="#bB"/><text x="77.5" y="20.5"><tspan class="r">张亚博</tspan>-NT</text></g>
<g id="b62" transform="translate(202,5938)"><use href="#bB"/><text x="77.5" y="20.5"><tspan class="r">王群</tspan>-潘文君</text><text x="77.5" y="41">黑胜1又3/4子</text></g>

<g id="c1" transform="translate(406,243)"><use href="#bC"/><text x="61.5" y="20.5"><tspan class="r">尹航</tspan>-陈润韬</text><text x="61.5" y="41">黑胜1又3/4子</text></g>
<g id="c2" transform="translate(406,425)"><use href="#bC"/><text x="61.5" y="20.5"><tspan class="r">田舟</tspan>-李劼</text><text x="61.5" y="41">黑中盘胜</text></g>
<g id="c3" transform="translate(406,555)"><use href="#bC"/><text x="61.5" y="20.5">王玮-<tspan class="r">唐韦星</tspan></text><text x="61.5" y="41">白胜2又1/4子</text></g>
<g id="c4" transform="translate(406,659)"><use href="#bC"/><text x="61.5" y="20.5">吴新宇-<tspan class="r">党毅飞</tspan></text><text x="61.5" y="41">白中盘胜</text></g>
<g id="c5" transform="translate(406,1388)"><use href="#bC"/><text x="61.5" y="20.5"><tspan class="r">张强</tspan>-鲁佳</text><text x="61.5" y="41">黑中盘胜</text></g>
<g id="c6" transform="translate(406,1518)"><use href="#bC"/><text x="61.5" y="20.5">李章元-<tspan class="r">刘曦</tspan></text><text x="61.5" y="41">白中盘胜</text></g>
<g id="c7" transform="translate(406,1674)"><use href="#bC"/><text x="61.5" y="20.5"><tspan class="r">江维杰</tspan>-陈潇楠</text><text x="61.5" y="41">黑中盘胜</text></g>
<g id="c8" transform="translate(406,1804)"><use href="#bC"/><text x="61.5" y="20.5">李豪杰-<tspan class="r">冯伟</tspan></text><text x="61.5" y="41">白中盘胜</text></g>
<g id="c9" transform="translate(406,2064)"><use href="#bC"/><text x="61.5" y="20.5">崔灿-<tspan class="r">孙力</tspan></text><text x="61.5" y="41">白胜2又1/4子</text></g>
<g id="c10" transform="translate(406,2272)"><use href="#bC"/><text x="61.5" y="20.5">陈笑天-<tspan class="r">王幼侠</tspan></text><text x="61.5" y="41">白胜1又1/4子</text></g>
<g id="c11" transform="translate(406,2428)"><use href="#bC"/><text x="61.5" y="20.5">廖行文-<tspan class="r">王迦南</tspan></text><text x="61.5" y="41">白胜1又1/4子</text></g>
<g id="c12" transform="translate(406,2532)"><use href="#bC"/><text x="61.5" y="20.5"><tspan class="r">孟磊</tspan>-李聪</text><text x="61.5" y="41">黑中盘胜</text></g>
<g id="c13" transform="translate(406,2688)"><use href="#bC"/><text x="61.5" y="20.5">杜阳-<tspan class="r">罗德隆</tspan></text><text x="61.5" y="41">白中盘胜</text></g>
<g id="c14" transform="translate(406,2844)"><use href="#bC"/><text x="61.5" y="20.5"><tspan class="r">韩晗</tspan>-邬光亚</text><text x="61.5" y="41">黑中盘胜</text></g>
<g id="c15" transform="translate(406,2948)"><use href="#bC"/><text x="61.5" y="20.5"><tspan class="r">杨啸天</tspan>-王鹭</text><text x="61.5" y="41">黑胜1又3/4子</text></g>
<g id="c16" transform="translate(406,3052)"><use href="#bC"/><text x="61.5" y="20.5">安冬旭-<tspan class="r">祁立鹤</tspan></text><text x="61.5" y="41">白胜1/4子</text></g>
<g id="c17" transform="translate(406,3312)"><use href="#bC"/><text x="61.5" y="20.5"><tspan class="r">檀啸</tspan>-黄晨</text><text x="61.5" y="41">黑胜1又3/4子</text></g>
<g id="c18" transform="translate(406,3468)"><use href="#bC"/><text x="61.5" y="20.5"><tspan class="r">何鑫</tspan>-叶锦锦</text><text x="61.5" y="41">黑超时胜</text></g>
<g id="c19" transform="translate(406,3572)"><use href="#bC"/><text x="61.5" y="20.5"><tspan class="r">潘非</tspan>-周振宇</text><text x="61.5" y="41">黑中盘胜</text></g>
<g id="c20" transform="translate(406,3676)"><use href="#bC"/><text x="61.5" y="20.5">陶欣然-<tspan class="r">佟禹林</tspan></text><text x="61.5" y="41">白中盘胜</text></g>
<g id="c21" transform="translate(406,4118)"><use href="#bC"/><text x="61.5" y="20.5">王异新-<tspan class="r">曹恒挺</tspan></text><text x="61.5" y="41">白中盘胜</text></g>
<g id="c22" transform="translate(406,4196)"><use href="#bC"/><text x="61.5" y="20.5"><tspan class="r">娄洛宁</tspan>-连笑</text><text x="61.5" y="41">黑胜1又3/4子</text></g>
<g id="c23" transform="translate(406,4352)"><use href="#bC"/><text x="61.5" y="20.5"><tspan class="r">张东岳</tspan>-赵守洵</text><text x="61.5" y="41">黑中盘胜</text></g>
<g id="c24" transform="translate(406,4534)"><use href="#bC"/><text x="61.5" y="20.5"><tspan class="r">张维</tspan>-方捷</text><text x="61.5" y="41">黑中盘胜</text></g>
<g id="c25" transform="translate(406,4768)"><use href="#bC"/><text x="61.5" y="20.5">赵哲伦-<tspan class="r">孟泰龄</tspan></text><text x="61.5" y="41">白中盘胜</text></g>
<g id="c26" transform="translate(406,4950)"><use href="#bC"/><text x="61.5" y="20.5"><tspan class="r">李铭</tspan>-李莹(小)</text><text x="61.5" y="41">黑中盘胜</text></g>
<g id="c27" transform="translate(406,5080)"><use href="#bC"/><text x="61.5" y="20.5"><tspan class="r">王东亮</tspan>-郑淼鑫</text><text x="61.5" y="41">黑中盘胜</text></g>
<g id="c28" transform="translate(406,5184)"><use href="#bC"/><text x="61.5" y="20.5">贾依凡-<tspan class="r">张宏杰</tspan></text><text x="61.5" y="41">白胜1/4子</text></g>
<g id="c29" transform="translate(406,5496)"><use href="#bC"/><text x="61.5" y="20.5">汪涛-<tspan class="r">毛睿龙</tspan></text><text x="61.5" y="41">白胜1/4子</text></g>
<g id="c30" transform="translate(406,5678)"><use href="#bC"/><text x="61.5" y="20.5"><tspan class="r">戎毅</tspan>-胡然闵</text><text x="61.5" y="41">黑胜4又3/4子</text></g>
<g id="c31" transform="translate(406,5808)"><use href="#bC"/><text x="61.5" y="20.5"><tspan class="r">蒋蔚</tspan>-曹潇阳</text><text x="61.5" y="41">黑胜3/4子</text></g>
<g id="c32" transform="translate(406,5912)"><use href="#bC"/><text x="61.5" y="20.5">王群-<tspan class="r">张亚博</tspan></text><text x="61.5" y="41">白中盘胜</text></g>

<g id="d1" transform="translate(578,321)"><use href="#bD"/><text x="61" y="20.5">田舟-<tspan class="r">尹航</tspan></text><text x="61" y="41">白胜1又1/4子</text></g>
<g id="d2" transform="translate(578,607)"><use href="#bD"/><text x="61" y="20.5"><tspan class="r">唐韦星</tspan>-党毅飞</text><text x="61" y="41">黑胜1又3/4子</text></g>
<g id="d3" transform="translate(578,1466)"><use href="#bD"/><text x="61" y="20.5">刘曦-<tspan class="r">张强</tspan></text><text x="61" y="41">白中盘胜</text></g>
<g id="d4" transform="translate(578,1726)"><use href="#bD"/><text x="61" y="20.5">冯伟-<tspan class="r">江维杰</tspan></text><text x="61" y="41">白中盘胜</text></g>
<g id="d5" transform="translate(578,2168)"><use href="#bD"/><text x="61" y="20.5">王幼侠-<tspan class="r">孙力</tspan></text><text x="61" y="41">白胜1/4子</text></g>
<g id="d6" transform="translate(578,2480)"><use href="#bD"/><text x="61" y="20.5"><tspan class="r">王迦南</tspan>-孟磊</text><text x="61" y="41">黑中盘胜</text></g>
<g id="d7" transform="translate(578,2740)"><use href="#bD"/><text x="61" y="20.5"><tspan class="r">罗德隆</tspan>-韩晗</text><text x="61" y="41">黑中盘胜</text></g>
<g id="d8" transform="translate(578,3000)"><use href="#bD"/><text x="61" y="20.5">祁立鹤-<tspan class="r">杨啸天</tspan></text><text x="61" y="41">白中盘胜</text></g>
<g id="d9" transform="translate(578,3364)"><use href="#bD"/><text x="61" y="20.5"><tspan class="r">檀啸</tspan>-何鑫</text><text x="61" y="41">黑中盘胜</text></g>
<g id="d10" transform="translate(578,3624)"><use href="#bD"/><text x="61" y="20.5"><tspan class="r">潘非</tspan>-佟禹林</text><text x="61" y="41">黑胜3/4子</text></g>
<g id="d11" transform="translate(578,4170)"><use href="#bD"/><text x="61" y="20.5"><tspan class="r">曹恒挺</tspan>-娄洛宁</text><text x="61" y="41">黑中盘胜</text></g>
<g id="d12" transform="translate(578,4430)"><use href="#bD"/><text x="61" y="20.5">张维-<tspan class="r">张东岳</tspan></text><text x="61" y="41">白中盘胜</text></g>
<g id="d13" transform="translate(578,4846)"><use href="#bD"/><text x="61" y="20.5">李铭-<tspan class="r">孟泰龄</tspan></text><text x="61" y="41">白中盘胜</text></g>
<g id="d14" transform="translate(578,5132)"><use href="#bD"/><text x="61" y="20.5">张宏杰-<tspan class="r">王东亮</tspan></text><text x="61" y="41">白中盘胜</text></g>
<g id="d15" transform="translate(578,5574)"><use href="#bD"/><text x="61" y="20.5">戎毅-<tspan class="r">毛睿龙</tspan></text><text x="61" y="41">白中盘胜</text></g>
<g id="d16" transform="translate(578,5860)"><use href="#bD"/><text x="61" y="20.5"><tspan class="r">蒋蔚</tspan>-张亚博</text><text x="61" y="41">黑中盘胜</text></g>

<g id="e1" transform="translate(750,425)"><use href="#bD"/><text x="61" y="20.5"><tspan class="r">尹航</tspan>-唐韦星</text><text x="61" y="41">黑中盘胜</text></g>
<g id="e2" transform="translate(750,737)"><use href="#bD"/><text x="61" y="20.5"><tspan class="r">罗洗河</tspan>-NT</text></g>
<g id="e3" transform="translate(750,1596)"><use href="#bD"/><text x="61" y="20.5">江维杰-<tspan class="r">张强</tspan></text><text x="61" y="41">白胜3又1/4子</text></g>
<g id="e4" transform="translate(750,1882)"><use href="#bD"/><text x="61" y="20.5"><tspan class="r">王垚</tspan>-NT</text></g>
<g id="e5" transform="translate(750,2272)"><use href="#bD"/><text x="61" y="20.5">王迦南-<tspan class="r">孙力</tspan></text><text x="61" y="41">白中盘胜</text></g>
<g id="e6" transform="translate(750,2844)"><use href="#bD"/><text x="61" y="20.5"><tspan class="r">罗德隆</tspan>-杨啸天</text><text x="61" y="41">黑中盘胜</text></g>
<g id="e7" transform="translate(750,3468)"><use href="#bD"/><text x="61" y="20.5"><tspan class="r">檀啸</tspan>-潘非</text><text x="61" y="41">黑胜1又3/4子</text></g>
<g id="e8" transform="translate(750,3753)"><use href="#bD"/><text x="61" y="20.5"><tspan class="r">刘小光</tspan>-NT</text></g>
<g id="e9" transform="translate(750,4066)"><use href="#bD"/><text x="61" y="20.5"><tspan class="r">李康</tspan>-NT</text></g>
<g id="e10" transform="translate(750,4352)"><use href="#bD"/><text x="61" y="20.5">张东岳-<tspan class="r">曹恒挺</tspan></text><text x="61" y="41">白中盘胜</text></g>
<g id="e11" transform="translate(750,4950)"><use href="#bD"/><text x="61" y="20.5">王东亮-<tspan class="r">孟泰龄</tspan></text><text x="61" y="41">白中盘胜</text></g>
<g id="e12" transform="translate(750,5262)"><use href="#bD"/><text x="61" y="20.5"><tspan class="r">王磊</tspan>-NT</text></g>
<g id="e13" transform="translate(750,5678)"><use href="#bD"/><text x="61" y="20.5"><tspan class="r">毛睿龙</tspan>-蒋蔚</text><text x="61" y="41">黑胜1又3/4子</text></g>
<g id="e14" transform="translate(750,5990)"><use href="#bD"/><text x="61" y="20.5"><tspan class="r">邹俊杰</tspan>-NT</text></g>

<g id="f1" transform="translate(922,10)"><use href="#bD"/><text x="61" y="20.5"><tspan class="r">陈耀烨</tspan>-NT</text></g>
<g id="f2" transform="translate(922,62)"><use href="#bD"/><text x="61" y="20.5"><tspan class="r">丁烈</tspan>-邵炜刚</text><text x="61" y="41">黑中盘胜</text></g>
<g id="f3" transform="translate(922,114)"><use href="#bD"/><text x="61" y="20.5"><tspan class="r">王檄</tspan>-NT</text></g>
<g id="f4" transform="translate(922,451)"><use href="#bD"/><text x="61" y="20.5">罗洗河-<tspan class="r">尹航</tspan></text><text x="61" y="41">白中盘胜</text></g>
<g id="f5" transform="translate(922,790)"><use href="#bD"/><text x="61" y="20.5"><tspan class="r">周睿羊</tspan>-NT</text></g>
<g id="f6" transform="translate(922,842)"><use href="#bD"/><text x="61" y="20.5">张立-<tspan class="r">柁嘉熹</tspan></text><text x="61" y="41">白中盘胜</text></g>
<g id="f7" transform="translate(922,894)"><use href="#bD"/><text x="61" y="20.5"><tspan class="r">胡耀宇</tspan>-NT</text></g>
<g id="f8" transform="translate(922,945)"><use href="#bD"/><text x="61" y="20.5"><tspan class="r">俞斌</tspan>-古灵益</text><text x="61" y="41">黑中盘胜</text></g>
<g id="f9" transform="translate(922,998)"><use href="#bD"/><text x="61" y="20.5"><tspan class="r">周鹤洋</tspan>-NT</text></g>
<g id="f10" transform="translate(922,1050)"><use href="#bD"/><text x="61" y="20.5"><tspan class="r">牛雨田</tspan>-董彦</text><text x="61" y="41">黑中盘胜</text></g>
<g id="f11" transform="translate(922,1102)"><use href="#bD"/><text x="61" y="20.5"><tspan class="r">丁伟</tspan>-NT</text></g>
<g id="f12" transform="translate(922,1154)"><use href="#bD"/><text x="61" y="20.5">杨一-<tspan class="r">时越</tspan></text><text x="61" y="41">白中盘胜</text></g>
<g id="f13" transform="translate(922,1206)"><use href="#bD"/><text x="61" y="20.5"><tspan class="r">李喆</tspan>-NT</text></g>
<g id="f14" transform="translate(922,1258)"><use href="#bD"/><text x="61" y="20.5">王昊洋-<tspan class="r">彭荃</tspan></text><text x="61" y="41">白中盘胜</text></g>
<g id="f15" transform="translate(922,1310)"><use href="#bD"/><text x="61" y="20.5"><tspan class="r">孔杰</tspan>-NT</text></g>
<g id="f16" transform="translate(922,1622)"><use href="#bD"/><text x="61" y="20.5"><tspan class="r">张强</tspan>-王垚</text><text x="61" y="41">黑中盘胜</text></g>
<g id="f17" transform="translate(922,1934)"><use href="#bD"/><text x="61" y="20.5"><tspan class="r">邱峻</tspan>-NT</text></g>
<g id="f18" transform="translate(922,2532)"><use href="#bD"/><text x="61" y="20.5"><tspan class="r">孙力</tspan>-罗德隆</text><text x="61" y="41">黑中盘胜</text></g>
<g id="f19" transform="translate(922,3130)"><use href="#bD"/><text x="61" y="20.5"><tspan class="r">刘星</tspan>-NT</text></g>
<g id="f20" transform="translate(922,3182)"><use href="#bD"/><text x="61" y="20.5"><tspan class="r">王雷</tspan>-王晨星</text><text x="61" y="41">黑中盘胜</text></g>
<g id="f21" transform="translate(922,3494)"><use href="#bD"/><text x="61" y="20.5"><tspan class="r">檀啸</tspan>-刘小光</text><text x="61" y="41">黑胜1.0目</text></g>
<g id="f22" transform="translate(922,3806)"><use href="#bD"/><text x="61" y="20.5"><tspan class="r">王煜辉</tspan>-NT</text></g>
<g id="f23" transform="translate(922,3858)"><use href="#bD"/><text x="61" y="20.5"><tspan class="r">谢赫</tspan>-NT</text></g>
<g id="f24" transform="translate(922,3910)"><use href="#bD"/><text x="61" y="20.5"><tspan class="r">朱元豪</tspan>-黄奕中</text><text x="61" y="41">黑中盘胜</text></g>
<g id="f25" transform="translate(922,3962)"><use href="#bD"/><text x="61" y="20.5"><tspan class="r">朴文垚</tspan>-NT</text></g>
<g id="f26" transform="translate(922,4014)"><use href="#bD"/><text x="61" y="20.5">刘世振-<tspan class="r">彭立尧</tspan></text><text x="61" y="41">白中盘胜</text></g>
<g id="f27" transform="translate(922,4326)"><use href="#bD"/><text x="61" y="20.5"><tspan class="r">李康</tspan>-曹恒挺</text><text x="61" y="41">黑中盘胜</text></g>
<g id="f28" transform="translate(922,4638)"><use href="#bD"/><text x="61" y="20.5"><tspan class="r">钟文靖</tspan>-NT</text></g>
<g id="f29" transform="translate(922,4976)"><use href="#bD"/><text x="61" y="20.5"><tspan class="r">孟泰龄</tspan>-王磊</text><text x="61" y="41">黑中盘胜</text></g>
<g id="f30" transform="translate(922,5314)"><use href="#bD"/><text x="61" y="20.5"><tspan class="r">常昊</tspan>-NT</text></g>
<g id="f31" transform="translate(922,5366)"><use href="#bD"/><text x="61" y="20.5"><tspan class="r">孙腾宇</tspan>-NT</text></g>
<g id="f32" transform="translate(922,5704)"><use href="#bD"/><text x="61" y="20.5">邹俊杰-<tspan class="r">毛睿龙</tspan></text><text x="61" y="41">白中盘胜</text></g>

<g id="g1" transform="translate(1094,36)"><use href="#bD"/><text x="61" y="20.5"><tspan class="r">陈耀烨</tspan>-丁烈</text><text x="61" y="41">黑中盘胜</text></g>
<g id="g2" transform="translate(1094,425)"><use href="#bD"/><text x="61" y="20.5"><tspan class="r">王檄</tspan>-尹航</text><text x="61" y="41">黑中盘胜</text></g>
<g id="g3" transform="translate(1094,816)"><use href="#bD"/><text x="61" y="20.5">柁嘉熹-<tspan class="r">周睿羊</tspan></text><text x="61" y="41">白中盘胜</text></g>
<g id="g4" transform="translate(1094,920)"><use href="#bD"/><text x="61" y="20.5">俞斌-<tspan class="r">胡耀宇</tspan></text><text x="61" y="41">白胜2又1/4子</text></g>
<g id="g5" transform="translate(1094,1024)"><use href="#bD"/><text x="61" y="20.5"><tspan class="r">周鹤洋</tspan>-牛雨田</text><text x="61" y="41">黑中盘胜</text></g>
<g id="g6" transform="translate(1094,1128)"><use href="#bD"/><text x="61" y="20.5">时越-<tspan class="r">丁伟</tspan></text><text x="61" y="41">白中盘胜</text></g>
<g id="g7" transform="translate(1094,1232)"><use href="#bD"/><text x="61" y="20.5"><tspan class="r">李喆</tspan>-彭荃</text><text x="61" y="41">黑中盘胜</text></g>
<g id="g8" transform="translate(1094,1596)"><use href="#bD"/><text x="61" y="20.5">张强-<tspan class="r">孔杰</tspan></text><text x="61" y="41">白中盘胜</text></g>
<g id="g9" transform="translate(1094,2506)"><use href="#bD"/><text x="61" y="20.5">孙力-<tspan class="r">邱峻</tspan></text><text x="61" y="41">白中盘胜</text></g>
<g id="g10" transform="translate(1094,3156)"><use href="#bD"/><text x="61" y="20.5"><tspan class="r">刘星</tspan>-王雷</text><text x="61" y="41">黑中盘胜</text></g>
<g id="g11" transform="translate(1094,3520)"><use href="#bD"/><text x="61" y="20.5">王煜辉-<tspan class="r">檀啸</tspan></text><text x="61" y="41">白中盘胜</text></g>
<g id="g12" transform="translate(1094,3884)"><use href="#bD"/><text x="61" y="20.5">朱元豪-<tspan class="r">谢赫</tspan></text><text x="61" y="41">白中盘胜</text></g>
<g id="g13" transform="translate(1094,3988)"><use href="#bD"/><text x="61" y="20.5"><tspan class="r">朴文垚</tspan>-彭立尧</text><text x="61" y="41">黑中盘胜</text></g>
<g id="g14" transform="translate(1094,4352)"><use href="#bD"/><text x="61" y="20.5">钟文靖-<tspan class="r">李康</tspan></text><text x="61" y="41">白中盘胜</text></g>
<g id="g15" transform="translate(1094,5002)"><use href="#bD"/><text x="61" y="20.5">常昊-<tspan class="r">孟泰龄</tspan></text><text x="61" y="41">白中盘胜</text></g>
<g id="g16" transform="translate(1094,5678)"><use href="#bD"/><text x="61" y="20.5">毛睿龙-<tspan class="r">孙腾宇</tspan></text><text x="61" y="41">白中盘胜</text></g>

<g id="h1" transform="translate(1266,374)"><use href="#bD"/><text x="61" y="20.5">王檄-<tspan class="r">陈耀烨</tspan></text><text x="61" y="41">白中盘胜</text></g>
<g id="h2" transform="translate(1266,868)"><use href="#bD"/><text x="61" y="20.5"><tspan class="r">周睿羊</tspan>-胡耀宇</text><text x="61" y="41">黑中盘胜</text></g>
<g id="h3" transform="translate(1266,1076)"><use href="#bD"/><text x="61" y="20.5"><tspan class="r">周鹤洋</tspan>-丁伟</text><text x="61" y="41">黑中盘胜</text></g>
<g id="h4" transform="translate(1266,1545)"><use href="#bD"/><text x="61" y="20.5">孔杰-<tspan class="r">李喆</tspan></text><text x="61" y="41">白中盘胜</text></g>
<g id="h5" transform="translate(1266,2558)"><use href="#bD"/><text x="61" y="20.5">刘星-<tspan class="r">邱峻</tspan></text><text x="61" y="41">白中盘胜</text></g>
<g id="h6" transform="translate(1266,3572)"><use href="#bD"/><text x="61" y="20.5"><tspan class="r">檀啸</tspan>-谢赫</text><text x="61" y="41">黑中盘胜</text></g>
<g id="h7" transform="translate(1266,4300)"><use href="#bD"/><text x="61" y="20.5">李康-<tspan class="r">朴文垚</tspan></text><text x="61" y="41">白中盘胜</text></g>
<g id="h8" transform="translate(1266,5340)"><use href="#bD"/><text x="61" y="20.5">孙腾宇-<tspan class="r">孟泰龄</tspan></text><text x="61" y="41">白中盘胜</text></g>

<g id="i1" transform="translate(1438,478)"><use href="#bD"/><text x="61" y="20.5"><tspan class="r">陈耀烨</tspan>-周睿羊</text><text x="61" y="41">黑胜3/4子</text></g>
<g id="i2" transform="translate(1438,1440)"><use href="#bD"/><text x="61" y="20.5">李喆-<tspan class="r">周鹤洋</tspan></text><text x="61" y="41">白中盘胜</text></g>
<g id="i3" transform="translate(1438,2922)"><use href="#bD"/><text x="61" y="20.5"><tspan class="r">邱峻</tspan>-檀啸</text><text x="61" y="41">黑中盘胜</text></g>
<g id="i4" transform="translate(1438,4976)"><use href="#bD"/><text x="61" y="20.5">孟泰龄-<tspan class="r">朴文垚</tspan></text><text x="61" y="41">白胜1/4子</text></g>

<g id="j1" transform="translate(1610,946)"><use href="#bD"/><text x="61" y="20.5">周鹤洋-<tspan class="r">陈耀烨</tspan></text><text x="61" y="41">白中盘胜</text></g>
<g id="j2" transform="translate(1610,3962)"><use href="#bD"/><text x="61" y="20.5"><tspan class="r">邱峻</tspan>-朴文垚</text><text x="61" y="41">黑中盘胜</text></g>

<g id="k1" transform="translate(1782,3000)"><use href="#bK"/><text x="53" y="20.5">邱峻-<tspan class="r">陈耀烨</tspan></text><text x="53" y="41">白胜1/4子</text></g>
<g id="k2" transform="translate(1782,6041)"><use href="#bK"/><text x="53" y="20.5"><tspan class="r">古力</tspan>-NT</text></g>

<g id="l1" transform="translate(1938,3026)"><use href="#bK"/><text x="53" y="20.5"><tspan class="r">陈耀烨</tspan>-古力</text><text x="53" y="41">黑中盘胜</text></g>
</g>
</svg>
